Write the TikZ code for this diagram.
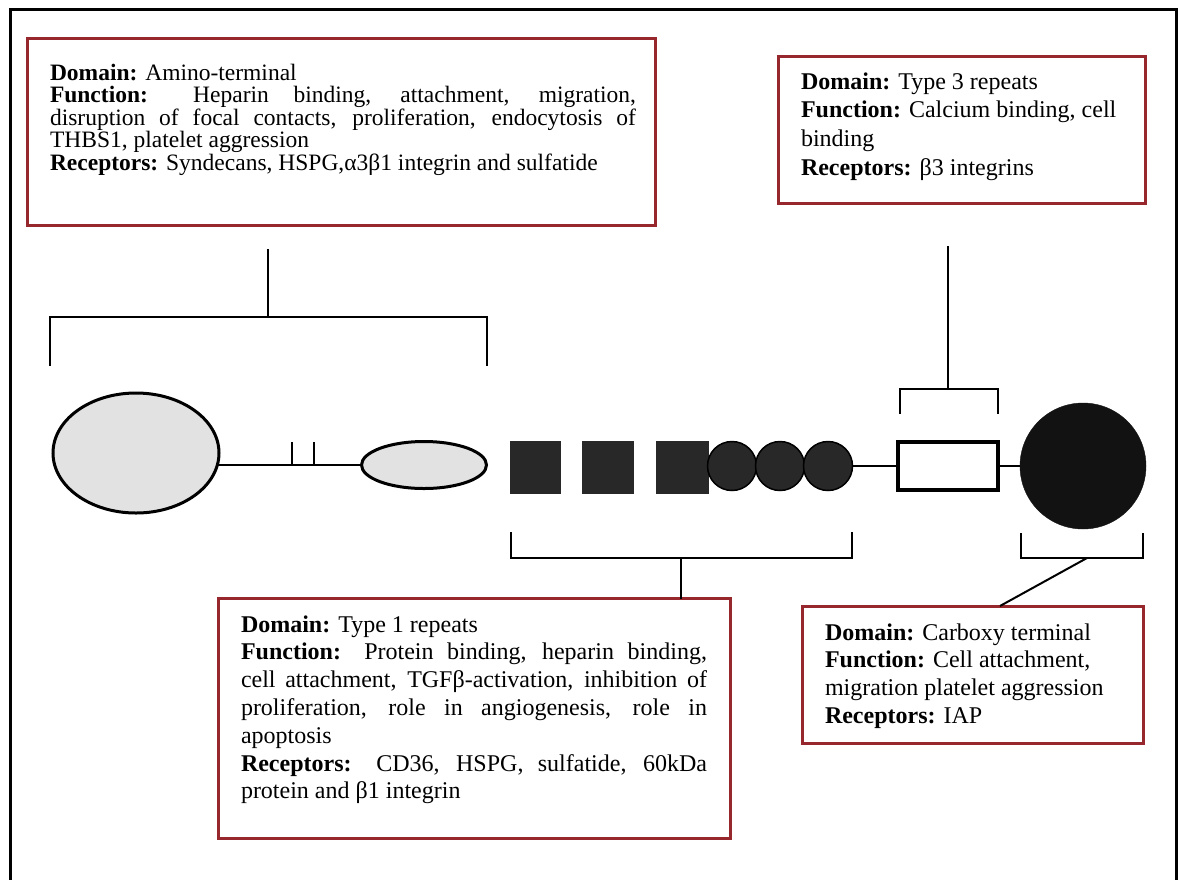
\documentclass[tikz,border=0pt]{standalone}
\usepackage{fontspec}
\setmainfont{Liberation Serif}
\usetikzlibrary{shapes.geometric,backgrounds}

\definecolor{boxred}{RGB}{150,40,45}
\definecolor{lightfill}{RGB}{226,226,226}
\definecolor{darkfill}{RGB}{40,40,40}
\definecolor{nearblack}{RGB}{18,18,18}

\begin{document}
\begin{tikzpicture}[x=1pt,y=-1pt,
  infobox/.style={draw=boxred,line width=3pt,fill=white,anchor=north west,
    inner sep=0pt,outer sep=0pt},
  infotext/.style={anchor=base west,inner sep=0pt,outer sep=0pt},
  chainline/.style={line width=2pt,black},
  bracketline/.style={line width=2.5pt,black,line cap=rect},
  lightoval/.style={ellipse,draw=black,line width=3pt,fill=lightfill,inner sep=0pt,outer sep=0pt},
  darksquare/.style={rectangle,fill=darkfill,draw=darkfill,line width=1pt,inner sep=0pt,outer sep=0pt},
  darkbead/.style={circle,fill=darkfill,draw=black,line width=1.5pt,minimum size=49pt,inner sep=0pt,outer sep=0pt},
]
\useasboundingbox (0,0) rectangle (1180,879);

% outer frame (open at the lower edge)
\draw[line width=3pt] (10,890) -- (10,9) -- (1176,9) -- (1176,890);

% ---------- information boxes ----------
\node[infobox,minimum width=628pt,minimum height=187pt] (boxA) at (27,38) {};
\node[infotext] (txtA) at (50,80) {\parbox[t]{586pt}{\fontsize{23.5}{22.6}\selectfont
\textbf{Domain:} Amino-terminal\\
\textbf{Function:} Heparin binding, attachment, migration,\linebreak
disruption of focal contacts, proliferation, endocytosis of\linebreak
THBS1, platelet aggression\\
\textbf{Receptors:} Syndecans, HSPG,α3β1 integrin and sulfatide}};

\node[infobox,minimum width=367pt,minimum height=147pt] (boxB) at (778,56) {};
\node[infotext] (txtB) at (801,89) {\parbox[t]{330pt}{\raggedright\fontsize{24}{28.7}\selectfont
\textbf{Domain:} Type 3 repeats\\
\textbf{Function:} Calcium binding, cell\\
binding\\
\textbf{Receptors:} β3 integrins}};

\node[infobox,minimum width=512pt,minimum height=240pt] (boxC) at (218,598) {};
\node[infotext] (txtC) at (241,632) {\parbox[t]{466pt}{\fontsize{24}{27.8}\selectfont
\textbf{Domain:} Type 1 repeats\\
\textbf{Function:} Protein binding, heparin binding,\linebreak
cell attachment, TGFβ-activation, inhibition of\linebreak
proliferation, role in angiogenesis, role in\linebreak
apoptosis\\
\textbf{Receptors:} CD36, HSPG, sulfatide, 60kDa\linebreak
protein and β1 integrin}};

\node[infobox,minimum width=341pt,minimum height=137pt] (boxD) at (802,606) {};
\node[infotext] (txtD) at (825,640) {\parbox[t]{310pt}{\raggedright\fontsize{24}{27.7}\selectfont
\textbf{Domain:} Carboxy terminal\\
\textbf{Function:} Cell attachment,\\
migration platelet aggression\\
\textbf{Receptors:} IAP}};

% ---------- domain chain ----------
\node[lightoval,minimum width=166pt,minimum height=120pt] (nterm) at (136,453) {};
\node[lightoval,minimum width=125pt,minimum height=47pt] (oval2) at (424,465) {};
\node[darksquare,minimum width=50pt,minimum height=52pt] (sq1) at (535,467) {};
\node[darksquare,minimum width=51pt,minimum height=52pt] (sq2) at (607.5,467) {};
\node[darksquare,minimum width=52pt,minimum height=52pt] (sq3) at (682,467) {};
\node[darkbead] (bead1) at (732,466) {};
\node[darkbead] (bead2) at (780,466) {};
\node[darkbead] (bead3) at (828,466) {};
\node[rectangle,draw=black,line width=3.5pt,fill=white,minimum width=100pt,
  minimum height=48pt,inner sep=0pt,outer sep=0pt] (rep3) at (948,466) {};
\node[circle,fill=nearblack,draw=nearblack,minimum size=126pt,inner sep=0pt,
  outer sep=0pt] (cterm) at (1083,466) {};

% linker lines behind the domains
\coordinate (tickL) at (292,442);
\coordinate (tickR) at (314,442);
\begin{scope}[on background layer]
  \draw[chainline] (oval2.west -| nterm.center) -- (oval2.west);
  \draw[chainline] (bead3.center) -- (rep3.west);
  \draw[chainline] (rep3.east) -- (cterm.center);
\end{scope}
\draw[chainline] (tickL) -- (tickL |- oval2.west);
\draw[chainline] (tickR) -- (tickR |- oval2.west);

% ---------- brackets ----------
% amino-terminal
\coordinate (aStem) at (268,250);
\coordinate (aL) at (50,365);
\coordinate (aR) at (487,365);
\coordinate (aBar) at (268,317);
\draw[bracketline] (aL) -- (aL |- aBar) -- (aR |- aBar) -- (aR);
\draw[bracketline] (aStem) -- (aBar);

% type 3 repeats
\coordinate (bStem) at (948,247);
\coordinate (bBar) at (948,389);
\coordinate (bL) at (900,413);
\coordinate (bR) at (998,413);
\draw[bracketline] (bL) -- (bL |- bBar) -- (bR |- bBar) -- (bR);
\draw[bracketline] (bStem) -- (bBar);

% type 1 repeats
\coordinate (cL) at (511,533);
\coordinate (cR) at (852,533);
\coordinate (cBar) at (681,558);
\draw[bracketline] (cL) -- (cL |- cBar) -- (cR |- cBar) -- (cR);
\draw[bracketline] (cBar) -- (cBar |- boxC.north);

% carboxy terminal
\coordinate (dL) at (1021,534);
\coordinate (dR) at (1143,534);
\coordinate (dBar) at (1087,558);
\draw[bracketline] (dL) -- (dL |- dBar) -- (dR |- dBar) -- (dR);
\draw[line width=2pt] (dBar) -- (boxD.north west -| 1000,0);
\end{tikzpicture}
\end{document}
